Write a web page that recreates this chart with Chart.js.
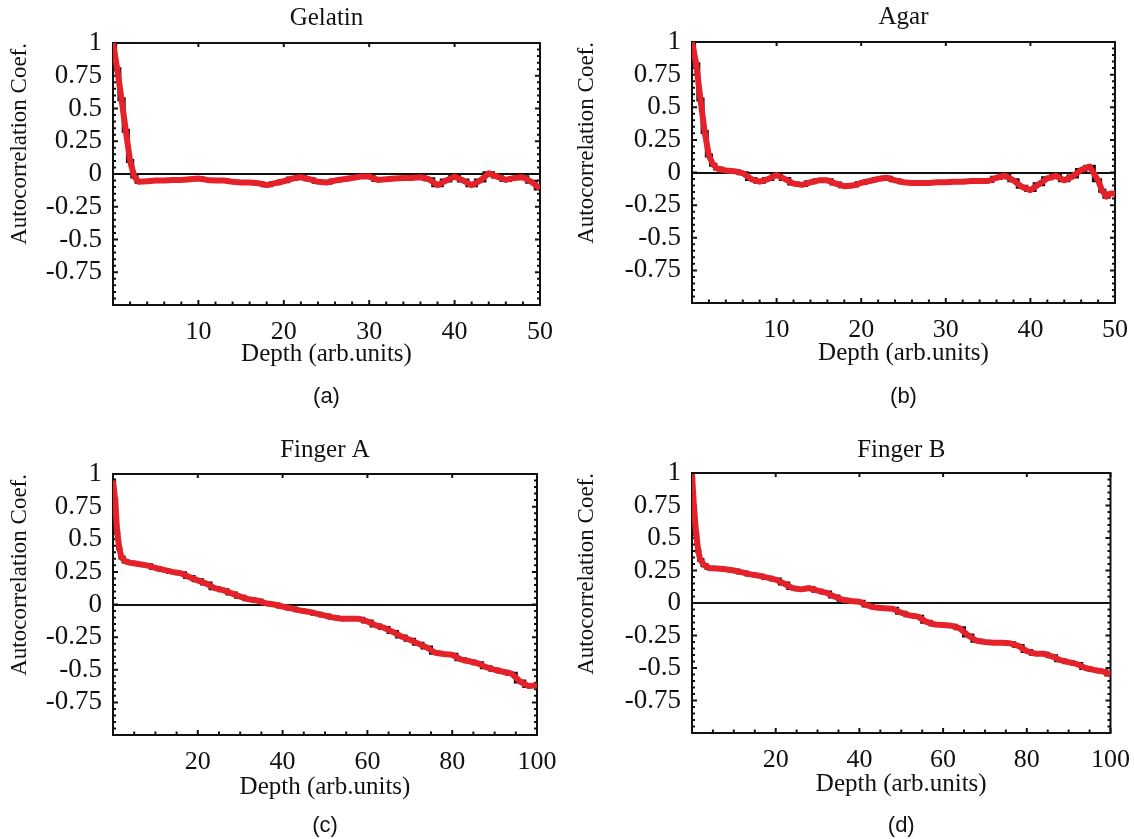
<!DOCTYPE html>
<html>
<head>
<meta charset="utf-8">
<title>Autocorrelation vs depth</title>
<script src="https://cdn.jsdelivr.net/npm/chart.js@4.4.1/dist/chart.umd.min.js"></script>
<style>
  html, body { margin: 0; padding: 0; background: #fff; }
  #wrap { position: relative; width: 1134px; height: 839px; overflow: hidden; }
  canvas { position: absolute; display: block; }
</style>
</head>
<body>
<div id="wrap">
  <canvas id="gelatin" width="567" height="420" style="left:0;top:0"></canvas>
  <canvas id="agar" width="567" height="420" style="left:567px;top:0"></canvas>
  <canvas id="fingerA" width="567" height="419" style="left:0;top:420px"></canvas>
  <canvas id="fingerB" width="567" height="419" style="left:567px;top:420px"></canvas>
</div>
<script>
// ── Data ────────────────────────────────────────────────────
const gelatinDepth = [0, 0.5, 1, 1.5, 2, 2.5, 3, 4, 5, 6, 7, 8, 9, 10, 11, 12, 13, 14, 15, 16, 17, 18, 19, 20,
  21, 22, 23, 24, 25, 26, 27, 28, 29, 30, 31, 32, 33, 34, 35, 36, 37, 38, 39, 40, 41, 42, 43, 44, 45, 46, 47, 48, 49, 50];
const gelatinCoef = [1.0, 0.8, 0.57, 0.33, 0.1, -0.02, -0.06, -0.055, -0.05, -0.05, -0.045, -0.045, -0.04, -0.035,
  -0.045, -0.05, -0.05, -0.06, -0.065, -0.065, -0.07, -0.085, -0.07, -0.055, -0.035, -0.025, -0.04, -0.06, -0.065,
  -0.05, -0.04, -0.03, -0.02, -0.02, -0.045, -0.04, -0.035, -0.03, -0.03, -0.025, -0.04, -0.085, -0.05, -0.02,
  -0.05, -0.085, -0.05, 0.005, -0.02, -0.045, -0.03, -0.025, -0.06, -0.11];

const agarDepth = [0, 0.5, 1, 1.5, 2, 2.5, 3, 4, 5, 6, 7, 8, 9, 10, 11, 12, 13, 14, 15, 16, 17, 18, 19, 20,
  21, 22, 23, 24, 25, 26, 27, 28, 29, 30, 31, 32, 33, 34, 35, 36, 37, 38, 39, 40, 41, 42, 43, 44, 45, 46, 47, 48,
  48.5, 49, 49.5, 50];
const agarCoef = [1.0, 0.83, 0.56, 0.31, 0.13, 0.06, 0.03, 0.015, 0.01, -0.005, -0.05, -0.07, -0.05, -0.02, -0.05,
  -0.085, -0.095, -0.075, -0.06, -0.06, -0.085, -0.105, -0.1, -0.08, -0.065, -0.05, -0.04, -0.06, -0.075, -0.08,
  -0.08, -0.08, -0.075, -0.075, -0.07, -0.07, -0.065, -0.065, -0.065, -0.04, -0.025, -0.06, -0.11, -0.135, -0.09,
  -0.045, -0.025, -0.06, -0.03, 0.02, 0.045, -0.06, -0.14, -0.185, -0.16, -0.16];

const fingerADepth = [0, 0.5, 1, 1.5, 2, 3, 4, 6, 8, 10, 12, 14, 16, 18, 20, 22, 24, 26, 28, 30, 32, 34, 36, 38, 40,
  42, 44, 46, 48, 50, 52, 54, 56, 58, 60, 62, 64, 66, 68, 70, 72, 74, 76, 78, 80, 82, 84, 86, 88, 90, 92, 94, 96, 98, 100];
const fingerACoef = [0.95, 0.8, 0.55, 0.43, 0.36, 0.33, 0.32, 0.31, 0.3, 0.28, 0.265, 0.25, 0.24, 0.21, 0.185, 0.16,
  0.125, 0.11, 0.085, 0.06, 0.04, 0.03, 0.01, 0.0, -0.015, -0.03, -0.045, -0.055, -0.07, -0.085, -0.1, -0.11, -0.11,
  -0.11, -0.13, -0.16, -0.18, -0.21, -0.245, -0.27, -0.3, -0.33, -0.37, -0.38, -0.385, -0.42, -0.435, -0.45, -0.48,
  -0.5, -0.515, -0.53, -0.59, -0.625, -0.62];

const fingerBDepth = [0, 0.5, 1, 1.5, 2, 3, 4, 6, 8, 10, 12, 14, 16, 18, 20, 22, 24, 26, 28, 30, 32, 34, 36, 38, 40,
  42, 44, 46, 48, 50, 52, 54, 56, 58, 60, 62, 64, 66, 68, 70, 72, 74, 76, 78, 80, 82, 84, 86, 88, 90, 92, 94, 96, 98, 100];
const fingerBCoef = [0.99, 0.72, 0.53, 0.4, 0.33, 0.29, 0.27, 0.265, 0.26, 0.25, 0.235, 0.22, 0.21, 0.195, 0.18, 0.15,
  0.115, 0.105, 0.115, 0.095, 0.08, 0.05, 0.025, 0.015, 0.01, -0.02, -0.035, -0.04, -0.045, -0.075, -0.095, -0.105,
  -0.145, -0.165, -0.17, -0.175, -0.195, -0.25, -0.29, -0.3, -0.305, -0.305, -0.31, -0.33, -0.37, -0.39, -0.39,
  -0.41, -0.44, -0.455, -0.47, -0.5, -0.515, -0.525, -0.55];

const yTickStep = 0.25;
const yMinorStep = 0.05;

Chart.defaults.font.family = "'Liberation Serif', 'Times New Roman', serif";
Chart.defaults.color = '#111';

const RED = '#e52229';
const INK = '#111';

// frame + inward tick marks, drawn under the curves
const frameTicks = {
  id: 'frameTicks',
  beforeDatasetsDraw(chart, args, opts) {
    const { ctx, chartArea: a, scales: { x, y } } = chart;
    ctx.save();
    ctx.strokeStyle = INK;
    ctx.lineWidth = 2;
    const n = Math.round((x.max - x.min) / opts.xMinor);
    for (let i = 0; i <= n; i++) {
      const v = x.min + i * opts.xMinor;
      const px = x.getPixelForValue(v);
      const major = Math.abs(v / opts.xMajor - Math.round(v / opts.xMajor)) < 1e-6;
      ctx.beginPath();
      ctx.moveTo(px, a.bottom);
      ctx.lineTo(px, a.bottom - (major ? 5 : 3.5));
      ctx.stroke();
      if (major) {
        ctx.beginPath();
        ctx.moveTo(px, a.top);
        ctx.lineTo(px, a.top + 4);
        ctx.stroke();
      }
    }
    const m = Math.round((y.max - y.min) / yMinorStep);
    for (let i = 0; i <= m; i++) {
      const v = y.min + i * yMinorStep;
      const py = y.getPixelForValue(v);
      const major = Math.abs(v / yTickStep - Math.round(v / yTickStep)) < 1e-6;
      const len = major ? 5 : 3;
      ctx.beginPath();
      ctx.moveTo(a.left, py); ctx.lineTo(a.left + len, py);
      ctx.moveTo(a.right, py); ctx.lineTo(a.right - len, py);
      ctx.stroke();
    }
    ctx.lineWidth = 2;
    ctx.strokeRect(a.left, a.top, a.right - a.left, a.bottom - a.top);
    ctx.restore();
  }
};

function makePanel(p) {
  const canvas = document.getElementById(p.id);
  const W = canvas.width, H = canvas.height;
  const titleSize = 25, tagSize = 22, xTitleSize = 25, yTitleSize = 23;
  const titleLH = titleSize * 1.2, tagLH = tagSize * 1.2, xTitleLH = xTitleSize * 1.2, yTitleLH = yTitleSize * 1.2;

  const titleTop = Math.max(0, p.titleY - titleLH / 2);
  const titleBottom = Math.max(0, p.area.t - titleTop - titleLH);
  const tagBottom = Math.max(0, H - p.tagY - tagLH / 2);
  const tagBox = tagLH + tagBottom;
  const xAxisH = H - p.area.b - tagBox;
  const xTitlePad = Math.max(0, p.area.b + xAxisH - p.xTitleY - xTitleLH / 2);

  const points = p.depth.map((d, i) => ({ x: d, y: p.coef[i] }));

  return new Chart(canvas, {
    type: 'line',
    data: {
      datasets: [
        { data: points, borderColor: RED, borderWidth: 6, pointRadius: 0, tension: 0, borderJoinStyle: 'round' },
        { data: points, borderColor: INK, borderWidth: 4, pointRadius: 0, stepped: 'middle' },
      ],
    },
    options: {
      responsive: false,
      animation: false,
      layout: { padding: { left: 0, top: 0, bottom: 0, right: W - p.area.r } },
      plugins: {
        legend: { display: false },
        tooltip: { enabled: false },
        title: {
          display: true, text: p.title, fullSize: false, color: INK,
          font: { size: titleSize, weight: 'normal' },
          padding: { top: titleTop, bottom: titleBottom },
        },
        subtitle: {
          display: true, text: p.tag, position: 'bottom', fullSize: false, color: INK,
          font: { family: "'Liberation Sans', Arial, sans-serif", size: tagSize, weight: 'normal' },
          padding: { top: 0, bottom: tagBottom },
        },
        frameTicks: { xMajor: p.xMajor, xMinor: p.xMinor },
      },
      scales: {
        x: {
          type: 'linear', min: 0, max: p.xMax,
          afterFit: s => { s.height = xAxisH; },
          grid: { display: false },
          border: { display: false },
          ticks: {
            stepSize: p.xStep, autoSkip: false, maxRotation: 0, padding: 4,
            font: { size: 26 }, color: INK,
            callback: v => (v === 0 ? '' : String(v)),
          },
          title: {
            display: true, text: 'Depth (arb.units)', color: INK,
            font: { size: xTitleSize },
            padding: { top: 0, bottom: xTitlePad },
          },
        },
        y: {
          min: -1, max: 1,
          afterFit: s => { s.width = p.area.l; },
          border: { display: false },
          grid: {
            drawTicks: false,
            lineWidth: 2,
            color: c => (Math.abs(c.tick.value) < 1e-9 ? INK : 'rgba(0,0,0,0)'),
          },
          ticks: {
            stepSize: yTickStep, autoSkip: false, padding: 11,
            font: { size: 27 }, color: INK,
            callback: v => {
              const r = Math.round(v * 100) / 100;
              return r === -1 ? '' : String(r);
            },
          },
          title: {
            display: true, text: 'Autocorrelation Coef.', align: 'end', color: INK,
            font: { size: yTitleSize },
            padding: { top: 20 - yTitleLH / 2, bottom: 0 },
          },
        },
      },
    },
    plugins: [frameTicks],
  });
}

makePanel({
  id: 'gelatin', title: 'Gelatin', tag: '(a)', depth: gelatinDepth, coef: gelatinCoef,
  xMax: 50, xStep: 10, xMajor: 10, xMinor: 2,
  area: { l: 113, t: 43, r: 540, b: 305 }, titleY: 18, xTitleY: 354, tagY: 397,
});
makePanel({
  id: 'agar', title: 'Agar', tag: '(b)', depth: agarDepth, coef: agarCoef,
  xMax: 50, xStep: 10, xMajor: 10, xMinor: 2,
  area: { l: 125, t: 42, r: 548, b: 303 }, titleY: 17, xTitleY: 353, tagY: 397,
});
makePanel({
  id: 'fingerA', title: 'Finger A', tag: '(c)', depth: fingerADepth, coef: fingerACoef,
  xMax: 100, xStep: 20, xMajor: 20, xMinor: 5,
  area: { l: 113, t: 54, r: 537, b: 315 }, titleY: 30, xTitleY: 367, tagY: 406,
});
makePanel({
  id: 'fingerB', title: 'Finger B', tag: '(d)', depth: fingerBDepth, coef: fingerBCoef,
  xMax: 100, xStep: 20, xMajor: 20, xMinor: 5,
  area: { l: 125, t: 53, r: 544, b: 313 }, titleY: 30, xTitleY: 364, tagY: 406,
});
</script>
</body>
</html>
